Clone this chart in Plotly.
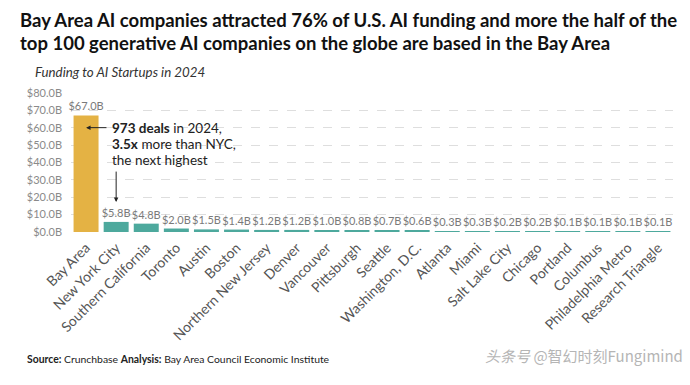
import plotly.graph_objects as go

categories = ["Bay Area", "New York City", "Southern California", "Toronto", "Austin", "Boston",
              "Northern New Jersey", "Denver", "Vancouver", "Pittsburgh", "Seattle",
              "Washington, D.C.", "Atlanta", "Miami", "Salt Lake City", "Chicago", "Portland",
              "Columbus", "Philadelphia Metro", "Research Triangle"]
funding_b = [67.0, 5.8, 4.8, 2.0, 1.5, 1.4, 1.2, 1.2, 1.0, 0.8, 0.7, 0.6, 0.3, 0.3, 0.2, 0.2,
             0.1, 0.1, 0.1, 0.1]
y_ticks = [0, 10, 20, 30, 40, 50, 60, 70, 80]

GOLD = "#E4B244"
TEAL = "#4DA99D"
colors = [GOLD] + [TEAL] * (len(categories) - 1)
labels = ["${:.1f}B".format(v) for v in funding_b]

FONT = "Lato"
fig = go.Figure(go.Bar(
    x=categories, y=funding_b, marker_color=colors, marker_line_width=0,
    text=labels, textposition="outside", cliponaxis=False, constraintext="none",
    textfont=dict(family=FONT, size=11, color="#7a7a7a"),
))

W, H = 690, 385
L, R, T, B = 71, 17, 92, 153
PW, PH = W - L - R, H - T - B

fig.update_layout(
    width=W, height=H, margin=dict(l=L, r=R, t=T, b=B),
    paper_bgcolor="white", plot_bgcolor="white",
    bargap=0.17, showlegend=False,
    font=dict(family=FONT),
)
fig.update_yaxes(range=[0, 80.5], tickvals=y_ticks,
                 ticktext=["${:.1f}B".format(v) for v in y_ticks],
                 showgrid=True, gridcolor="#dedede", griddash="dash", gridwidth=1,
                 zeroline=False, showline=False,
                 tickfont=dict(family=FONT, size=11, color="#8a8a8a"),
                 ticklabelstandoff=8)
fig.update_xaxes(tickangle=-45, showline=False, showgrid=False,
                 tickfont=dict(family=FONT, size=14, color="#555555"),
                 ticklabelstandoff=4)


def px_x(p):
    return (p - L) / PW


def px_y(p):
    return (H - B - p) / PH


ann = []
ann.append(dict(xref="paper", yref="paper", x=px_x(18), y=px_y(20),
                text="<b>Bay Area AI companies attracted 76% of U.S. AI funding and more the half of the</b>",
                showarrow=False, xanchor="left", yanchor="middle",
                font=dict(family=FONT, size=18.5, color="#111111")))
ann.append(dict(xref="paper", yref="paper", x=px_x(18), y=px_y(43),
                text="<b>top 100 generative AI companies on the globe are based in the Bay Area</b>",
                showarrow=False, xanchor="left", yanchor="middle",
                font=dict(family=FONT, size=18.5, color="#111111")))
ann.append(dict(xref="paper", yref="paper", x=px_x(33), y=px_y(72),
                text="<i>Funding to AI Startups in 2024</i>",
                showarrow=False, xanchor="left", yanchor="middle",
                font=dict(family=FONT, size=13.3, color="#333333")))
ann.append(dict(xref="paper", yref="paper", x=px_x(25), y=px_y(359),
                text="<b>Source:</b> Crunchbase <b>Analysis:</b> Bay Area Council Economic Institute",
                showarrow=False, xanchor="left", yanchor="middle",
                font=dict(family=FONT, size=10.4, color="#222222")))
ann.append(dict(xref="paper", yref="paper", x=px_x(685), y=px_y(355),
                text="<i>头条号</i> @智幻时刻Fungimind",
                showarrow=False, xanchor="right", yanchor="middle",
                font=dict(family="Noto Sans CJK SC", size=15, color="#b5b5b5")))

# callout text lines
call_lines = ["<b>973 deals</b> in 2024,", "<b>3.5x</b> more than NYC,", "the next highest"]
for i, t in enumerate(call_lines):
    ann.append(dict(xref="paper", yref="paper", x=px_x(110), y=px_y(128 + 16 * i),
                    text=t, showarrow=False, xanchor="left", yanchor="middle",
                    font=dict(family=FONT, size=13.5, color="#222222")))
# left arrow to Bay Area bar
ann.append(dict(xref="x", yref="y", x=categories[0], y=60, text="",
                showarrow=True, arrowhead=2, arrowsize=0.9, arrowwidth=1, arrowcolor="#222222",
                ax=22, ay=0, standoff=0))
# down arrow to NYC bar
ann.append(dict(xref="x", yref="y", x=categories[1], y=17.2, text="",
                showarrow=True, arrowhead=2, arrowsize=0.9, arrowwidth=1, arrowcolor="#222222",
                ax=0, ay=-32, standoff=0))
fig.update_layout(annotations=ann)

fig.write_html("out.html", config={"displayModeBar": False},
               post_script="document.body.style.margin='0px';")
